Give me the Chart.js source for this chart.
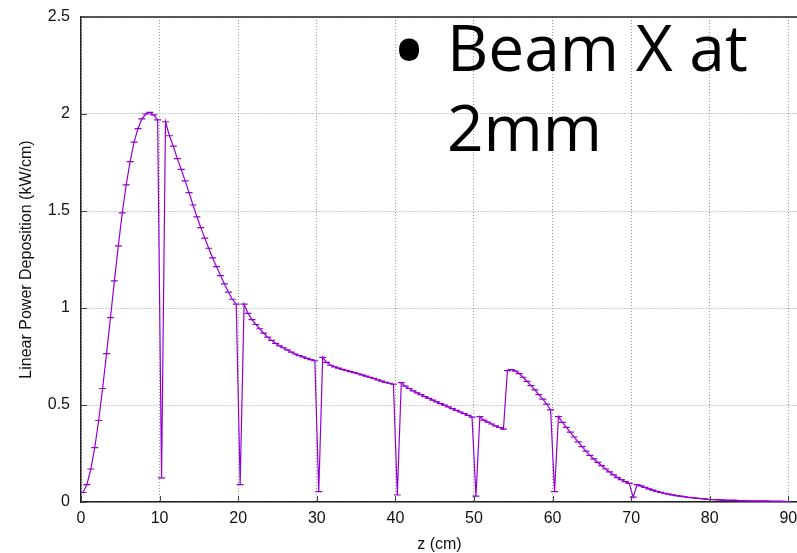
<!DOCTYPE html>
<html>
<head>
<meta charset="utf-8">
<script src="https://cdn.jsdelivr.net/npm/chart.js@4"></script>
<style>
  html, body { margin: 0; padding: 0; background: #fff; }
  #wrap { position: relative; width: 797px; height: 553px; overflow: hidden; }
  #note {
    position: absolute; left: 447px; top: 7px;
    font-family: "Open Sans", sans-serif; font-size: 64px; line-height: 80px;
    color: #000; white-space: nowrap;
  }
  #note .dot { position: absolute; left: -56px; top: 1px; font-size: 96px; }
</style>
</head>
<body>
<div id="wrap">
  <canvas id="powerChart" width="803" height="553"></canvas>
  <div id="note"><span class="dot">•</span>Beam X at<br>2mm</div>
</div>
<script>
// bins are 0.5 cm wide, first centre at 0.25 cm
const zFirst = 0.25;
const zStep = 0.5;

// linear power deposition per bin (kW/cm), one array per 10 cm of z
const power00 = [0.049, 0.09, 0.17, 0.28, 0.42, 0.585, 0.765, 0.95, 1.14, 1.32,
                 1.49, 1.635, 1.755, 1.855, 1.925, 1.975, 2.0, 2.008, 1.995, 1.97];
const power10 = [0.124, 1.96, 1.888, 1.834, 1.77, 1.715, 1.655, 1.595, 1.531, 1.47,
                 1.414, 1.36, 1.308, 1.258, 1.213, 1.167, 1.124, 1.082, 1.045, 1.02];
const power20 = [0.09, 1.02, 0.972, 0.94, 0.915, 0.893, 0.87, 0.85, 0.833, 0.818,
                 0.805, 0.795, 0.784, 0.773, 0.763, 0.755, 0.748, 0.74, 0.734, 0.728];
const power30 = [0.053, 0.746, 0.72, 0.705, 0.697, 0.69, 0.684, 0.678, 0.672, 0.667,
                 0.661, 0.655, 0.649, 0.643, 0.637, 0.63, 0.623, 0.617, 0.612, 0.607];
const power40 = [0.036, 0.615, 0.597, 0.585, 0.573, 0.563, 0.553, 0.543, 0.534, 0.525,
                 0.516, 0.507, 0.499, 0.49, 0.481, 0.472, 0.464, 0.456, 0.447, 0.437];
const power50 = [0.03, 0.44, 0.422, 0.412, 0.402, 0.392, 0.384, 0.376, 0.677, 0.683,
                 0.675, 0.662, 0.643, 0.622, 0.6, 0.578, 0.553, 0.53, 0.505, 0.475];
const power60 = [0.053, 0.44, 0.41, 0.385, 0.36, 0.335, 0.31, 0.285, 0.262, 0.24,
                 0.222, 0.204, 0.187, 0.17, 0.155, 0.14, 0.126, 0.115, 0.105, 0.096];
const power70 = [0.025, 0.09, 0.083, 0.075, 0.068, 0.061, 0.055, 0.05, 0.045, 0.041,
                 0.037, 0.033, 0.03, 0.027, 0.024, 0.022, 0.02, 0.018, 0.016, 0.014];
const power80 = [0.013, 0.012, 0.011, 0.01, 0.009, 0.008, 0.008, 0.007, 0.006, 0.006,
                 0.005, 0.005, 0.004, 0.004, 0.004, 0.003, 0.003, 0.003, 0.003, 0.002];

const powerValues = [].concat(power00, power10, power20, power30, power40,
                              power50, power60, power70, power80);

const xTicks = [0, 10, 20, 30, 40, 50, 60, 70, 80, 90];
const yTicks = [0, 0.5, 1, 1.5, 2, 2.5];

const points = powerValues.map((v, i) => ({ x: zFirst + zStep * i, y: v }));

const tickFont = { family: "'Liberation Sans', Arial, sans-serif", size: 16 };

// gnuplot-style frame: top edge plus small inward ticks
const framePlugin = {
  id: 'frame',
  afterDraw(chart) {
    const { ctx, chartArea: a, scales: { x, y } } = chart;
    ctx.save();
    ctx.strokeStyle = '#222';
    ctx.lineWidth = 1.5;
    ctx.beginPath();
    ctx.moveTo(a.left, a.top);
    ctx.lineTo(a.right, a.top);
    ctx.stroke();
    ctx.lineWidth = 1;
    ctx.strokeStyle = '#444';
    ctx.beginPath();
    xTicks.forEach(v => {
      const px = Math.round(x.getPixelForValue(v)) + 0.5;
      ctx.moveTo(px, a.bottom);
      ctx.lineTo(px, a.bottom - 6);
    });
    yTicks.forEach(v => {
      const py = Math.round(y.getPixelForValue(v)) + 0.5;
      ctx.moveTo(a.left, py);
      ctx.lineTo(a.left + 6, py);
    });
    ctx.stroke();
    ctx.restore();
  }
};

new Chart(document.getElementById('powerChart'), {
  type: 'line',
  data: {
    datasets: [{
      data: points,
      borderColor: '#9400d3',
      backgroundColor: '#9400d3',
      borderWidth: 1.2,
      pointStyle: 'line',
      pointRadius: 3.5,
      pointBorderWidth: 1.2,
      pointBorderColor: '#9400d3',
      tension: 0,
      fill: false
    }]
  },
  options: {
    responsive: false,
    animation: false,
    layout: { padding: { top: 17, right: 0, bottom: 0, left: 0 } },
    plugins: {
      legend: { display: false },
      tooltip: { enabled: false }
    },
    scales: {
      x: {
        type: 'linear',
        min: 0,
        max: 91.2,
        afterBuildTicks: axis => { axis.ticks = xTicks.map(v => ({ value: v })); },
        afterFit: axis => { axis.height = 51; axis.paddingLeft = 0; axis.paddingRight = 0; },
        grid: { color: '#999', lineWidth: 1, drawTicks: false },
        border: { color: '#222', width: 1.5, dash: [1, 2] },
        ticks: { color: '#111', font: tickFont, padding: 7, maxRotation: 0, autoSkip: false },
        title: { display: true, text: 'z (cm)', color: '#111', font: tickFont, padding: { top: 0, bottom: -1 } }
      },
      y: {
        min: 0,
        max: 2.5,
        afterBuildTicks: axis => { axis.ticks = yTicks.map(v => ({ value: v })); },
        afterFit: axis => { axis.width = 81; axis.paddingTop = 0; axis.paddingBottom = 0; },
        grid: { color: '#999', lineWidth: 1, drawTicks: false },
        border: { color: '#222', width: 1.5, dash: [1, 2] },
        ticks: { color: '#111', font: tickFont, padding: 11, callback: v => String(v) },
        title: { display: true, text: 'Linear Power Deposition (kW/cm)', color: '#111',
                 font: tickFont, padding: { top: 17, bottom: 0 } }
      }
    }
  },
  plugins: [framePlugin]
});
</script>
</body>
</html>
